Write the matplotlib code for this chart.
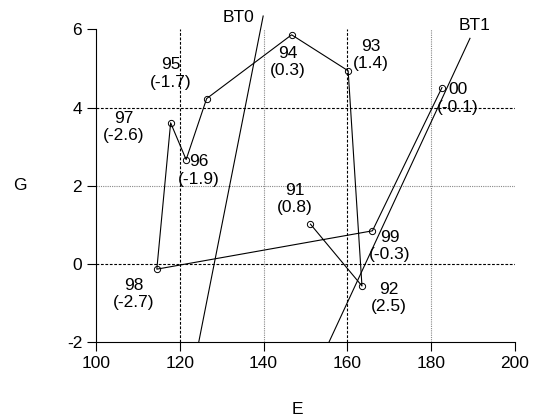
import matplotlib
matplotlib.use("Agg")
import matplotlib.pyplot as plt

plt.rcParams['font.family'] = ['Liberation Sans', 'DejaVu Sans']
plt.rcParams['axes.unicode_minus'] = False

years = ["91", "92", "93", "94", "95", "96", "97", "98", "99", "00"]
e_vals = [151.2, 163.5, 160.2, 146.7, 126.4, 121.5, 117.8, 114.5, 166.0, 182.6]
g_vals = [1.02, -0.56, 4.94, 5.86, 4.23, 2.67, 3.61, -0.13, 0.85, 4.51]
changes = ["0.8", "2.5", "1.4", "0.3", "-1.7", "-1.9", "-2.6", "-2.7", "-0.3", "-0.1"]

bt0_e = [124.5, 139.9]
bt0_g = [-2.0, 6.34]
bt1_e = [155.6, 189.3]
bt1_g = [-2.0, 5.77]

# label offsets in points (where each year label sits next to its point)
offsets = [(-11.5, 18), (19.4, -8.6), (16.6, 11.5), (-2.9, -19.4), (-26, 18),
           (9.4, -7.9), (-33.8, -2.9), (-16.6, -18), (12.2, -10.8), (11.5, -7.9)]

fs = 12.5

fig = plt.figure(figsize=(5.34, 4.19), dpi=100)
ax = fig.add_axes([0.180, 0.183, 0.784, 0.747])

# grid: black dashed / grey dotted alternating
for xv, st in [(120, 'k'), (140, 'g'), (160, 'k'), (180, 'g')]:
    if st == 'k':
        ax.axvline(xv, color='black', lw=0.8, ls=(0, (2.5, 1.5)), zorder=1)
    else:
        ax.axvline(xv, color='#888888', lw=0.8, ls=(0, (1, 1)), zorder=1)
for yv, st in [(0, 'k'), (2, 'g'), (4, 'k')]:
    if st == 'k':
        ax.axhline(yv, color='black', lw=0.8, ls=(0, (2.5, 1.5)), zorder=1)
    else:
        ax.axhline(yv, color='#888888', lw=0.8, ls=(0, (1, 1)), zorder=1)

ax.plot(e_vals, g_vals, color='black', lw=0.8, marker='o', ms=4.5,
        mfc='none', mec='black', mew=0.7, zorder=3)

for yr, ch, x, y, off in zip(years, changes, e_vals, g_vals, offsets):
    ax.annotate(f"{yr}\n({ch})", (x, y), xytext=off, textcoords='offset points',
                ha='center', va='center', fontsize=fs, multialignment='center',
                linespacing=1.2)

ax.plot(bt0_e, bt0_g, color='black', lw=0.8, clip_on=False, zorder=2)
ax.plot(bt1_e, bt1_g, color='black', lw=0.8, clip_on=False, zorder=2)
ax.text(bt0_e[1] - 2, bt0_g[1] - 0.05, "BT0", ha='right', va='center', fontsize=fs)
ax.text(bt1_e[1] + 1, bt1_g[1] + 0.33, "BT1", ha='center', va='center', fontsize=fs)

ax.set_xlim(100, 200)
ax.set_ylim(-2, 6)
ax.set_xticks([100, 120, 140, 160, 180, 200])
ax.set_yticks([-2, 0, 2, 4, 6])
ax.tick_params(direction='out', length=6.5, width=0.8, pad=3.5, labelsize=fs, colors='black')
for s in ['top', 'right']:
    ax.spines[s].set_visible(False)
for s in ['left', 'bottom']:
    ax.spines[s].set_linewidth(0.8)

ax.set_xlabel("E", fontsize=fs, va='center')
ax.xaxis.set_label_coords(0.481, -0.216)
ax.set_ylabel("G", fontsize=fs, rotation=0, va='center', ha='center')
ax.yaxis.set_label_coords(-0.182, 0.5)

fig.savefig("out.png", dpi=100)
